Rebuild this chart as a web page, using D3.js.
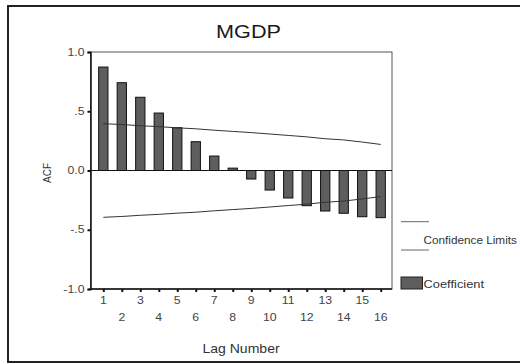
<!DOCTYPE html>
<html><head><meta charset="utf-8">
<script src="https://cdn.jsdelivr.net/npm/d3@7"></script>
<style>body{margin:0;background:#fff}svg{display:block}text{font-family:"Liberation Sans",Arial,sans-serif}</style>
</head><body><svg id="c" width="520" height="364"></svg>
<script>
const lags = [1,2,3,4,5,6,7,8,9,10,11,12,13,14,15,16];
const coefficient = [0.873,0.741,0.618,0.485,0.361,0.243,0.122,0.02,-0.072,-0.165,-0.232,-0.297,-0.342,-0.361,-0.39,-0.398];
const confUpper = [0.395,0.388,0.378,0.370,0.360,0.352,0.340,0.330,0.320,0.308,0.296,0.284,0.268,0.258,0.240,0.220];
const confLower = confUpper.map(v => -v);
const yTicks = [1.0,0.5,0.0,-0.5,-1.0];
const yTickLabels = ["1.0",".5","0.0","-.5","-1.0"];
const title = "MGDP";

const SX = 1.17;
const svg = d3.select("#c");
const L = 90.5, R = 392, T = 52, B = 289;
const x = d3.scaleLinear().domain([1,16]).range([103.3,380.7]);
const y = d3.scaleLinear().domain([-1,1]).range([B,T]);

function txt(px, py, s, size, anchor, fill, rot, sx) {
  const k = sx || SX;
  return svg.append("text")
    .attr("transform", `translate(${px},${py}) ${rot ? "rotate(-90) scale(1,"+k+")" : "scale("+k+",1)"}`)
    .attr("text-anchor", anchor || "start")
    .attr("font-size", size).attr("fill", fill || "#333").text(s);
}

// outer frame
svg.append("rect").attr("x",8).attr("y",6).attr("width",520).attr("height",356)
  .attr("fill","#fff").attr("stroke","#222").attr("stroke-width",2);

txt(248.5, 38.3, title, 18.5, "middle", "#1a1a1a");

// plot frame
svg.append("rect").attr("x",L).attr("y",T).attr("width",R-L).attr("height",B-T)
  .attr("fill","#fff").attr("stroke","#555").attr("stroke-width",1);

// bars
const bw = 9.3;
svg.append("g").selectAll("rect").data(lags).join("rect")
  .attr("x",(d)=>x(d)-bw/2)
  .attr("y",(d,i)=>y(Math.max(0,coefficient[i])))
  .attr("width",bw)
  .attr("height",(d,i)=>Math.abs(y(coefficient[i])-y(0)))
  .attr("fill","#5e5e5e").attr("stroke","#111").attr("stroke-width",1);

// zero line
svg.append("line").attr("x1",L).attr("x2",R).attr("y1",y(0)).attr("y2",y(0))
  .attr("stroke","#111").attr("stroke-width",1.2);

// confidence limits
const line = d3.line().x((d,i)=>x(lags[i])).y(d=>y(d));
[confUpper, confLower].forEach(arr=>{
  svg.append("path").attr("d",line(arr)).attr("fill","none")
    .attr("stroke","#333").attr("stroke-width",1);
});

// y axis
const ya = d3.axisLeft(y).tickValues(yTicks).tickSize(3).tickFormat(()=> "");
const gy = svg.append("g").attr("transform",`translate(${L},0)`).call(ya);
gy.select(".domain").attr("stroke","#111").attr("stroke-width",1.5);
gy.selectAll(".tick line").attr("stroke","#111").attr("stroke-width",2);
yTicks.forEach((v,i)=> txt(84.5, y(v)+3.7, yTickLabels[i], 10.5, "end", "#444"));

// x axis
const xa = d3.axisBottom(x).tickValues(lags).tickSize(3).tickFormat(()=> "");
const gx = svg.append("g").attr("transform",`translate(0,${B})`).call(xa);
gx.select(".domain").attr("stroke","#111").attr("stroke-width",1.5)
  .attr("d",`M${L},0H${R}`);
gx.selectAll(".tick line").attr("stroke","#111").attr("stroke-width",2);
lags.forEach(d => txt(x(d), d%2 ? 304 : 320.5, String(d), 10.5, "middle", "#444"));

txt(241, 353, "Lag Number", 12, "middle", "#333");
txt(51, 173, "ACF", 10, "middle", "#333", true);

// legend
svg.append("line").attr("x1",401).attr("x2",429).attr("y1",221.7).attr("y2",221.7).attr("stroke","#666");
svg.append("line").attr("x1",401).attr("x2",429).attr("y1",250).attr("y2",250).attr("stroke","#666");
txt(423.5, 244, "Confidence Limits", 11, "start", "#333", false, 1.07);
svg.append("rect").attr("x",401).attr("y",277).attr("width",21.5).attr("height",12)
  .attr("fill","#5e5e5e").attr("stroke","#222").attr("stroke-width",1);
txt(423.5, 287.5, "Coefficient", 11, "start", "#333");
</script></body></html>
